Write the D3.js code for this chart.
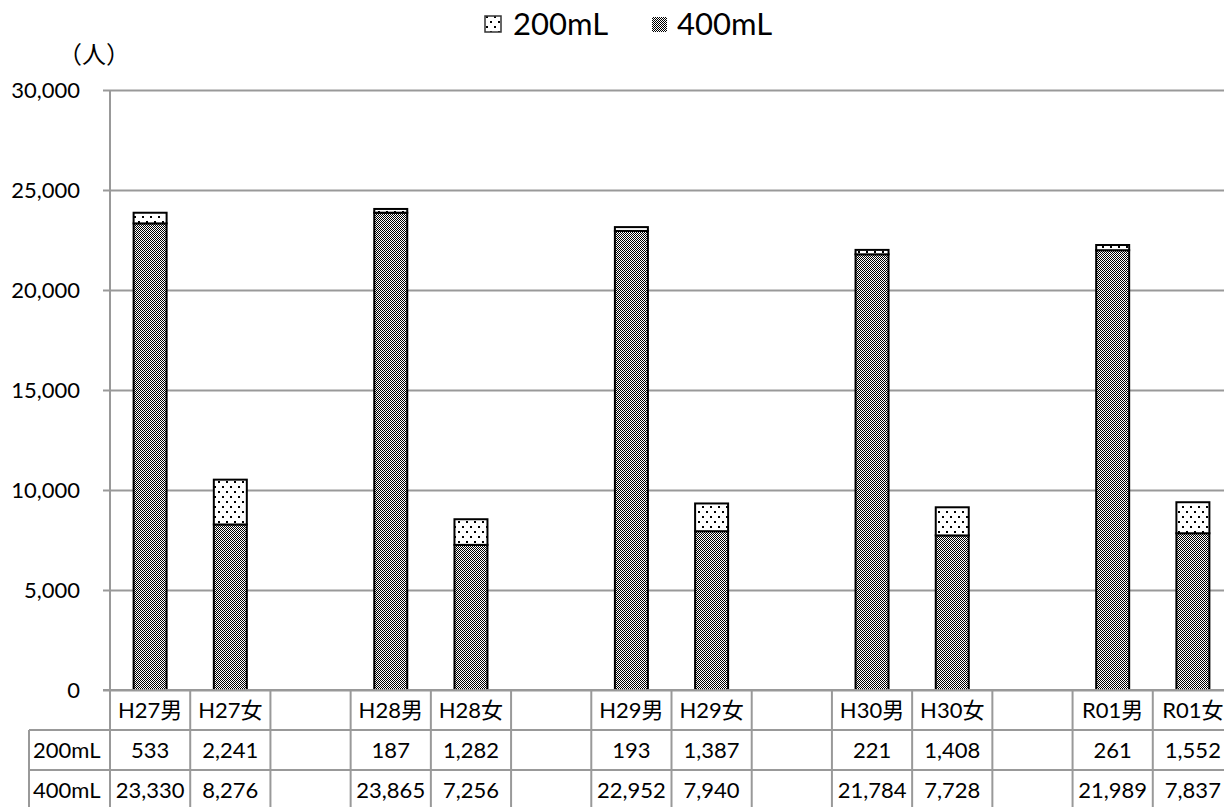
<!DOCTYPE html>
<html><head><meta charset="utf-8">
<script src="https://cdn.jsdelivr.net/npm/d3@7"></script>
<style>
html,body{margin:0;padding:0;background:#fff;overflow:hidden}
text{font-family:"Lato","Noto Sans CJK JP",sans-serif;fill:#000}
</style></head><body>
<svg id="c" width="1224" height="807"></svg>
<script>
const categories = ["H27男","H27女","","H28男","H28女","","H29男","H29女","","H30男","H30女","","R01男","R01女"];
const series = ["200mL","400mL"];
const v200 = [533,2241,null,187,1282,null,193,1387,null,221,1408,null,261,1552];
const v400 = [23330,8276,null,23865,7256,null,22952,7940,null,21784,7728,null,21989,7837];
const yTicks = [0,5000,10000,15000,20000,25000,30000];
const unitLabel = "（人）";

(function(){
const svg = d3.select("#c");
const pL = 110, pR = 1233, pT = 90, pB = 690;
const grid = "#999";

const defs = svg.append("defs");
const chk = defs.append("pattern").attr("id","chk").attr("patternUnits","userSpaceOnUse").attr("width",2).attr("height",2);
chk.append("rect").attr("width",2).attr("height",2).attr("fill","#fff");
chk.append("rect").attr("x",0).attr("y",0).attr("width",1).attr("height",1).attr("fill","#000");
chk.append("rect").attr("x",1).attr("y",1).attr("width",1).attr("height",1).attr("fill","#000");
const dots = defs.append("pattern").attr("id","dots").attr("patternUnits","userSpaceOnUse").attr("width",8).attr("height",10);
dots.append("rect").attr("width",8).attr("height",10).attr("fill","#fff");
dots.append("rect").attr("x",2).attr("y",1).attr("width",2).attr("height",2).attr("fill","#000");
dots.append("rect").attr("x",6).attr("y",6).attr("width",2).attr("height",2).attr("fill","#000");

const idx = d3.range(categories.length);
const x = d3.scaleBand().domain(idx).range([pL, pR]).paddingInner(0).paddingOuter(0);
const y = d3.scaleLinear().domain([0,30000]).range([pB, pT]);

const yAxis = d3.axisLeft(y).tickValues(yTicks).tickSize(-(pR-pL)).tickFormat(d3.format(","));
const ga = svg.append("g").attr("transform",`translate(${pL},0)`).call(yAxis);
ga.select(".domain").remove();
ga.selectAll(".tick line").attr("stroke",grid).attr("stroke-width",2).attr("x1",-7);
ga.selectAll(".tick text").attr("font-size",22).attr("dy","0.32em").attr("x",-30);
svg.append("line").attr("x1",pL).attr("x2",pL).attr("y1",pT).attr("y2",pB).attr("stroke",grid).attr("stroke-width",2);

const bw = 33;
const g = svg.append("g");
idx.forEach(i => {
  if (v400[i] == null) return;
  const cx = x(i) + x.bandwidth()/2;
  g.append("rect").attr("x",cx-bw/2).attr("width",bw)
    .attr("y",y(v400[i])).attr("height",y(0)-y(v400[i]))
    .attr("fill","url(#chk)").attr("stroke","#000").attr("stroke-width",2);
  g.append("rect").attr("x",cx-bw/2).attr("width",bw)
    .attr("y",y(v400[i]+v200[i])).attr("height",y(v400[i])-y(v400[i]+v200[i]))
    .attr("fill","url(#dots)").attr("stroke","#000").attr("stroke-width",2);
});

const rowH = 40;
const rows = [{label:null, vals:categories},{label:series[0], vals:v200},{label:series[1], vals:v400}];
const tbl = svg.append("g");
const fmt = d3.format(",");
const labelLeft = 29;
[pB, pB+rowH, pB+2*rowH, pB+3*rowH].forEach((yy,k)=>{
  tbl.append("line").attr("x1", k===0 ? pL-7 : labelLeft).attr("x2",pR).attr("y1",yy).attr("y2",yy)
    .attr("stroke",grid).attr("stroke-width",2);
});
idx.concat([categories.length]).forEach(i=>{
  const xx = i < categories.length ? x(i) : pR;
  tbl.append("line").attr("x1",xx).attr("x2",xx).attr("y1",pB).attr("y2",pB+3*rowH+5).attr("stroke",grid).attr("stroke-width",2);
});
tbl.append("line").attr("x1",labelLeft).attr("x2",labelLeft).attr("y1",pB+rowH).attr("y2",pB+3*rowH+5).attr("stroke",grid).attr("stroke-width",2);
rows.forEach((r,k)=>{
  const cy = pB + k*rowH + rowH/2;
  if (r.label) tbl.append("text").attr("x",labelLeft+4).attr("y",cy).attr("dy","0.35em").attr("font-size",22).text(r.label);
  idx.forEach(i=>{
    const v = r.vals[i];
    if (v == null || v === "") return;
    tbl.append("text").attr("x",x(i)+x.bandwidth()/2).attr("y",cy).attr("dy","0.35em")
      .attr("text-anchor","middle").attr("font-size",22).text(k===0 ? v : fmt(v));
  });
});

svg.append("text").attr("x",58).attr("y",63).attr("font-size",24).text(unitLabel);

const lg = svg.append("g");
lg.append("rect").attr("x",485).attr("y",16).attr("width",16).attr("height",16).attr("fill","url(#dots)").attr("stroke","#333").attr("stroke-width",1.5);
lg.append("text").attr("x",513).attr("y",35).attr("font-size",31).text(series[0]);
lg.append("rect").attr("x",652).attr("y",17).attr("width",15).attr("height",15).attr("fill","url(#chk)");
lg.append("text").attr("x",677).attr("y",35).attr("font-size",31).text(series[1]);
})();
</script></body></html>
